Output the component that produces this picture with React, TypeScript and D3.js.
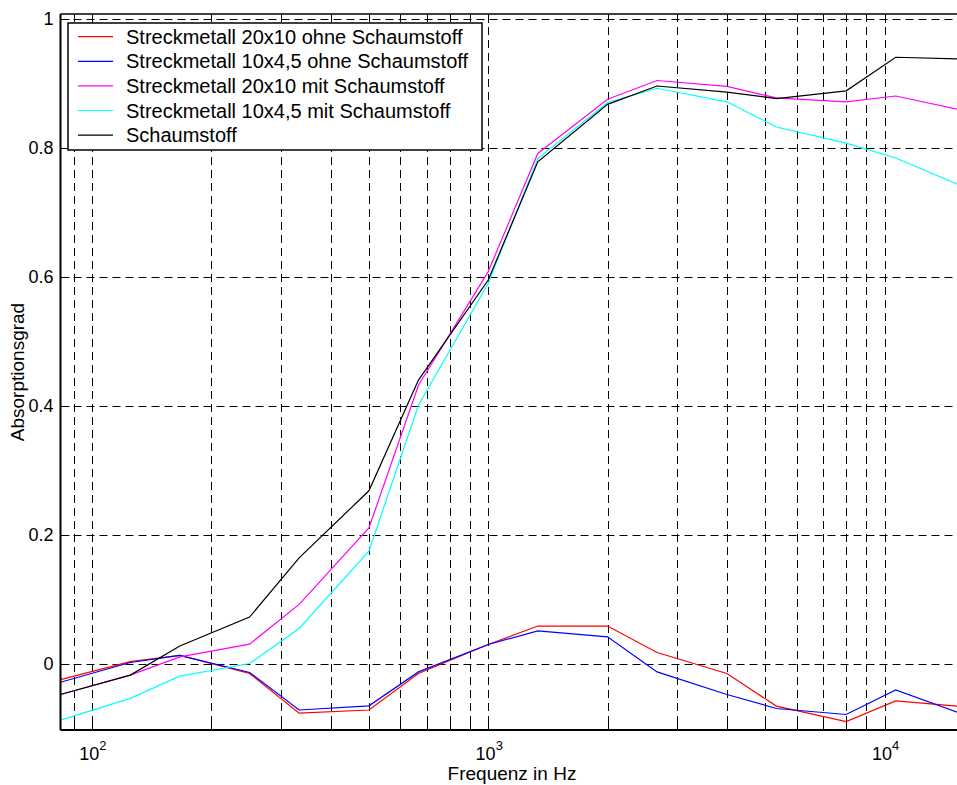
import React from "react";
import * as d3 from "d3";

const freqs = [83.333, 125, 166.667, 250, 333.333, 500, 666.667, 1000, 1333.33, 2000, 2666.67, 4000, 5333.33, 8000, 10666.7, 16000];

const red = [-0.024, 0.004, 0.0135, -0.0144, -0.076, -0.071, -0.0144, 0.0305, 0.059, 0.059, 0.018, -0.0144, -0.065, -0.089, -0.057, -0.066];
const blue = [-0.028, 0.0026, 0.0135, -0.013, -0.071, -0.0646, -0.012, 0.0305, 0.0516, 0.0423, -0.012, -0.047, -0.0687, -0.078, -0.04, -0.079];
const magenta = [-0.047, -0.017, 0.0113, 0.031, 0.0925, 0.211, 0.432, 0.608, 0.791, 0.875, 0.904, 0.895, 0.877, 0.871, 0.88, 0.857];
const cyan = [-0.0868, -0.053, -0.0186, 0.001, 0.0553, 0.175, 0.401, 0.59, 0.783, 0.87, 0.892, 0.871, 0.832, 0.807, 0.784, 0.738];
const black = [-0.047, -0.017, 0.028, 0.073, 0.1647, 0.2685, 0.44, 0.595, 0.778, 0.867, 0.8955, 0.886, 0.876, 0.888, 0.94, 0.937];

const seriesNames = [
  "Streckmetall 20x10 ohne Schaumstoff",
  "Streckmetall 10x4,5 ohne Schaumstoff",
  "Streckmetall 20x10 mit Schaumstoff",
  "Streckmetall 10x4,5 mit Schaumstoff",
  "Schaumstoff",
];
const seriesValues = [red, blue, magenta, cyan, black];
const seriesColors = ["#ff0000", "#0000ff", "#ff00ff", "#00ffff", "#000000"];

const yTicks = [0, 0.2, 0.4, 0.6, 0.8, 1];
const yTickLabels = ["0", "0.2", "0.4", "0.6", "0.8", "1"];
const xMajor = [100, 1000, 10000];
const xMajorExp = ["2", "3", "4"];

const W = 957;
const H = 785;
const L = 60.5;
const R = 965.5;
const T = 14;
const B = 730;
const FONT = "'Liberation Sans', Arial, sans-serif";

export default function App() {
  const x = d3.scaleLog().domain([freqs[0], freqs[freqs.length - 1]]).range([L, R]);
  const y = d3.scaleLinear().domain([-0.102, 1.007]).range([B, T]);

  const minor: number[] = [];
  for (const dec of [10, 100, 1000, 10000]) {
    for (let k = 1; k <= 9; k++) {
      const f = dec * k;
      if (f >= freqs[0] && f <= freqs[freqs.length - 1]) minor.push(f);
    }
  }

  const line = d3
    .line<number>()
    .x((_, i) => x(freqs[i]))
    .y((d) => y(d));

  const dash = "8,5";

  return (
    <svg
      width={W}
      height={H}
      style={{ position: "fixed", left: 0, top: 0, background: "#fff" }}
      fontFamily={FONT}
    >
      <rect x={0} y={0} width={W} height={H} fill="#fff" />
      <defs>
        <clipPath id="plot">
          <rect x={L} y={T} width={R - L} height={B - T} />
        </clipPath>
      </defs>
      {/* grid */}
      <g stroke="#000" strokeWidth={1} strokeDasharray={dash} fill="none">
        {minor.map((f) => (
          <line key={"gx" + f} x1={Math.round(x(f)) + 0.5} x2={Math.round(x(f)) + 0.5} y1={T} y2={B} />
        ))}
        {yTicks.map((v) => (
          <line key={"gy" + v} x1={L} x2={R} y1={Math.round(y(v)) + 0.5} y2={Math.round(y(v)) + 0.5} />
        ))}
      </g>
      {/* ticks */}
      <g stroke="#000" strokeWidth={1}>
        {minor.map((f) => {
          const len = xMajor.includes(f) ? 9 : 6;
          const xx = Math.round(x(f)) + 0.5;
          return (
            <g key={"t" + f}>
              <line x1={xx} x2={xx} y1={B} y2={B - len} />
              <line x1={xx} x2={xx} y1={T} y2={T + len} />
            </g>
          );
        })}
        {yTicks.map((v) => (
          <line key={"ty" + v} x1={L} x2={L + 9} y1={Math.round(y(v)) + 0.5} y2={Math.round(y(v)) + 0.5} />
        ))}
      </g>
      {/* data */}
      <g clipPath="url(#plot)" fill="none" strokeWidth={1.2}>
        {seriesValues.map((vals, i) => (
          <path key={"s" + i} d={line(vals) || ""} stroke={seriesColors[i]} />
        ))}
      </g>
      {/* axes box */}
      <g stroke="#000" fill="none">
        <line x1={L} x2={L} y1={T} y2={B} strokeWidth={2} />
        <line x1={L} x2={R} y1={B} y2={B} strokeWidth={2} />
        <line x1={L} x2={R} y1={T} y2={T} strokeWidth={1.5} />
      </g>
      {/* y tick labels */}
      {yTicks.map((v, i) => (
        <text key={"yl" + v} x={L - 7} y={y(v)} dy="0.35em" textAnchor="end" fontSize={18} fill="#000">
          {yTickLabels[i]}
        </text>
      ))}
      {/* x tick labels */}
      {xMajor.map((f, i) => (
        <text key={"xl" + f} x={x(f) + 1} y={760} textAnchor="middle" fontSize={18} fill="#000">
          10
          <tspan dy={-10} fontSize={13}>
            {xMajorExp[i]}
          </tspan>
        </text>
      ))}
      {/* axis labels */}
      <text x={512} y={780} textAnchor="middle" fontSize={19} fill="#000">
        Frequenz in Hz
      </text>
      <text
        transform={`translate(24, ${(T + B) / 2}) rotate(-90)`}
        textAnchor="middle"
        fontSize={19}
        fill="#000"
      >
        Absorptionsgrad
      </text>
      {/* legend */}
      <g>
        <rect x={68} y={23} width={414} height={127} fill="#fff" stroke="#000" strokeWidth={1.5} />
        {seriesNames.map((name, i) => {
          const cy = 36.7 + i * 24.6;
          return (
            <g key={"lg" + i}>
              <line x1={78} x2={113} y1={cy} y2={cy} stroke={seriesColors[i]} strokeWidth={1.2} />
              <text x={126} y={cy} dy="0.35em" fontSize={20} fill="#000">
                {name}
              </text>
            </g>
          );
        })}
      </g>
    </svg>
  );
}
